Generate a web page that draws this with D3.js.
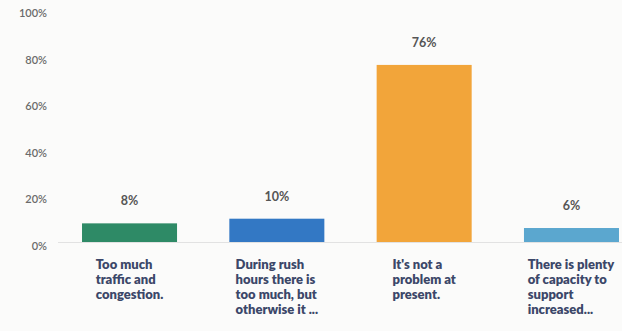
<!DOCTYPE html>
<html><head><meta charset="utf-8">
<script src="https://cdn.jsdelivr.net/npm/d3@7"></script>
<style>html,body{margin:0;padding:0;background:#fbfbfa;}svg{display:block;}</style>
</head><body>
<svg id="c" width="622" height="331"></svg>
<script>
const categories = [
  ["Too much", "traffic and", "congestion."],
  ["During rush", "hours there is", "too much, but", "otherwise it ..."],
  ["It's not a", "problem at", "present."],
  ["There is plenty", "of capacity to", "support", "increased..."]
];
const values = [8, 10, 76, 6];
const valueLabels = ["8%", "10%", "76%", "6%"];
const colors = ["#2e8a66", "#3378c4", "#f2a53a", "#5ba7cf"];
const yTicks = [0, 20, 40, 60, 80, 100];

const svg = d3.select("#c");
const x = d3.scaleBand().domain(d3.range(values.length)).range([55.5, 645.5]).paddingInner(0.355).paddingOuter(0.18);
const y = d3.scaleLinear().domain([0, 100]).range([242, 9]);

// baseline
svg.append("line").attr("x1", 58).attr("x2", 622).attr("y1", y(0) + 0.5).attr("y2", y(0) + 0.5)
  .attr("stroke", "#e2e2e2").attr("stroke-width", 1);

// y axis
const yAxis = d3.axisLeft(y).tickValues(yTicks).tickFormat(d => d + "%").tickSize(0).tickPadding(0);
const ga = svg.append("g").attr("transform", "translate(47,4)").call(yAxis);
ga.select(".domain").remove();
ga.selectAll("text").attr("fill", "#6b6b6b").style("font-family", "Lato, sans-serif")
  .style("font-size", "11px").style("font-weight", "600");

// bars
svg.selectAll("rect.bar").data(values).join("rect").attr("class", "bar")
  .attr("x", (d, i) => x(i)).attr("width", x.bandwidth())
  .attr("y", d => y(d)).attr("height", d => y(0) - y(d))
  .attr("fill", (d, i) => colors[i]);

// value labels
svg.selectAll("text.val").data(values).join("text").attr("class", "val")
  .attr("x", (d, i) => x(i) + x.bandwidth() / 2).attr("y", d => y(d) - 18)
  .attr("text-anchor", "middle").attr("fill", "#555")
  .style("font-family", "Lato, sans-serif").style("font-size", "12.5px").style("font-weight", "700")
  .text((d, i) => valueLabels[i]);

// category labels: block centered, lines left-aligned
categories.forEach((lines, i) => {
  const g = svg.append("g");
  const t = g.append("text").attr("fill", "#3b4769")
    .style("font-family", "Lato, sans-serif").style("font-size", "13px").style("font-weight", "800");
  lines.forEach((l, j) => t.append("tspan").attr("x", 0).attr("y", 269 + j * 15).text(l));
  const w = t.node().getBBox().width;
  g.attr("transform", `translate(${x(i) + x.bandwidth() / 2 - w / 2},0)`);
});
</script>
</body></html>
